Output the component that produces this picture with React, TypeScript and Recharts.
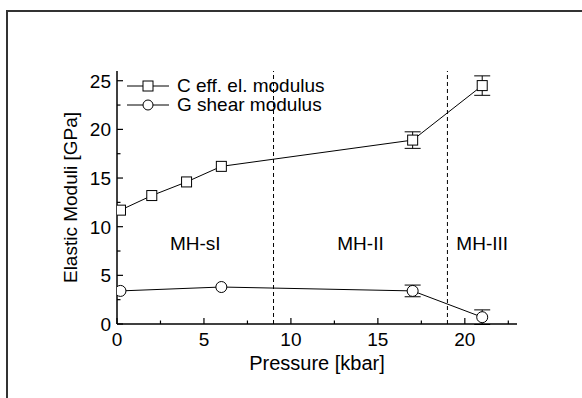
import React from "react";
import { LineChart, Line, XAxis, YAxis, ErrorBar, ReferenceLine, ReferenceDot } from "recharts";

const FONT = '"Liberation Sans", Arial, sans-serif';

// C eff. el. modulus
const cPressure = [0.2, 2, 4, 6, 17, 21];
const cModulus = [11.7, 13.2, 14.6, 16.2, 18.9, 24.5];
const cError = [0, 0, 0, 0, 0.85, 1.0];

// G shear modulus
const gPressure = [0.2, 6, 17, 21];
const gModulus = [3.4, 3.8, 3.4, 0.7];
const gError = [0, 0, 0.6, 0.75];

const xTicks = [0, 2.5, 5, 7.5, 10, 12.5, 15, 17.5, 20, 22.5];
const yTicks = [0, 2.5, 5, 7.5, 10, 12.5, 15, 17.5, 20, 22.5, 25];
const xDomain = [0, 23];
const yDomain = [0, 26];

const phaseBounds = [9, 19];
const phaseNames = ["MH-sI", "MH-II", "MH-III"];
const phaseLabelY = 8.3;

const cData = cPressure.map((p, i) => ({ p, v: cModulus[i], err: cError[i] }));
const gData = gPressure.map((p, i) => ({ p, v: gModulus[i], err: gError[i] }));

const edges = [xDomain[0], ...phaseBounds, xDomain[1]];
const phases = phaseNames.map((name, i) => ({ name, x: (edges[i] + edges[i + 1]) / 2 }));

const isMajor = (v: number) => v % 5 === 0;

const BottomTick = (props: any) => {
  const { x, y, payload } = props;
  const major = isMajor(payload.value);
  return (
    <g>
      <line x1={x} y1={y} x2={x} y2={y - (major ? 6 : 3.5)} stroke="#000" strokeWidth={1.2} />
      {major && (
        <text x={x} y={y + 22} textAnchor="middle" fontSize={19} fontFamily={FONT} fill="#000">
          {payload.value}
        </text>
      )}
    </g>
  );
};

const TopTick = (props: any) => {
  const { x, y, payload } = props;
  return <line x1={x} y1={y} x2={x} y2={y + (isMajor(payload.value) ? 6 : 3.5)} stroke="#000" strokeWidth={1.2} />;
};

const LeftTick = (props: any) => {
  const { x, y, payload } = props;
  const major = isMajor(payload.value);
  return (
    <g>
      <line x1={x} y1={y} x2={x + (major ? 6 : 3.5)} y2={y} stroke="#000" strokeWidth={1.2} />
      {major && (
        <text x={x - 6} y={y + 7} textAnchor="end" fontSize={19} fontFamily={FONT} fill="#000">
          {payload.value}
        </text>
      )}
    </g>
  );
};

const RightTick = (props: any) => {
  const { x, y, payload } = props;
  return <line x1={x} y1={y} x2={x - (isMajor(payload.value) ? 6 : 3.5)} y2={y} stroke="#000" strokeWidth={1.2} />;
};

const squareDot = (p: any) => {
  if (p.cx == null || p.cy == null) return <g key={`c-${p.index}`} />;
  return <rect key={`c-${p.index}`} x={p.cx - 5} y={p.cy - 5} width={10} height={10} fill="#fff" stroke="#000" strokeWidth={1} />;
};

const circleDot = (p: any) => {
  if (p.cx == null || p.cy == null) return <g key={`g-${p.index}`} />;
  return <circle key={`g-${p.index}`} cx={p.cx} cy={p.cy} r={5.5} fill="#fff" stroke="#000" strokeWidth={1} />;
};

const LegendRow = ({ marker, label }: { marker: "square" | "circle"; label: string }) => (
  <div style={{ display: "flex", alignItems: "center", height: 19 }}>
    <svg width={50} height={14} style={{ marginRight: 1 }}>
      <line x1={1} y1={7} x2={43} y2={7} stroke="#000" strokeWidth={1} />
      {marker === "square" ? (
        <rect x={17} y={2} width={10} height={10} fill="#fff" stroke="#000" />
      ) : (
        <circle cx={22} cy={7} r={5} fill="#fff" stroke="#000" />
      )}
    </svg>
    <span style={{ fontSize: 19, lineHeight: "18px", fontFamily: FONT, color: "#000" }}>{label}</span>
  </div>
);

export default function App() {
  return (
    <div style={{ position: "absolute", left: 0, top: 0, width: 582, height: 398, background: "#fff", overflow: "hidden" }}>
      <div
        style={{
          position: "absolute",
          left: 6,
          top: 10,
          right: -4,
          bottom: -4,
          borderTop: "2px solid #333",
          borderLeft: "2px solid #333",
        }}
      />
      <LineChart width={582} height={398} margin={{ top: 71, right: 65, bottom: 28, left: 57 }} style={{ position: "absolute", left: 0, top: 0 }}>
        <XAxis
          dataKey="p"
          type="number"
          domain={xDomain}
          ticks={xTicks}
          interval={0}
          tickSize={0}
          tickMargin={0}
          tick={<BottomTick />}
          axisLine={{ stroke: "#000", strokeWidth: 1.5 }}
          tickLine={false}
          height={46}
          allowDataOverflow
          label={{ value: "Pressure [kbar]", position: "insideBottom", offset: 0, fontSize: 20, fontFamily: FONT, fill: "#000" }}
        />
        <XAxis
          xAxisId="top"
          dataKey="p"
          type="number"
          orientation="top"
          domain={xDomain}
          ticks={xTicks}
          interval={0}
          tickSize={0}
          tickMargin={0}
          tick={<TopTick />}
          axisLine={{ stroke: "#000", strokeWidth: 1.5 }}
          tickLine={false}
          height={0}
          allowDataOverflow
        />
        <YAxis
          type="number"
          domain={yDomain}
          ticks={yTicks}
          interval={0}
          tickSize={0}
          tickMargin={0}
          tick={<LeftTick />}
          axisLine={{ stroke: "#000", strokeWidth: 1.5 }}
          tickLine={false}
          width={60}
          allowDataOverflow
          label={{
            value: "Elastic Moduli [GPa]",
            angle: -90,
            position: "insideLeft",
            offset: 13,
            fontSize: 19,
            fontFamily: FONT,
            fill: "#000",
            style: { textAnchor: "middle" },
          }}
        />
        <YAxis
          yAxisId="right"
          type="number"
          orientation="right"
          domain={yDomain}
          ticks={yTicks}
          interval={0}
          tickSize={0}
          tickMargin={0}
          tick={<RightTick />}
          axisLine={{ stroke: "#000", strokeWidth: 1.5 }}
          tickLine={false}
          width={0}
          allowDataOverflow
        />
        {phaseBounds.map((b) => (
          <ReferenceLine key={b} x={b} stroke="#000" strokeWidth={1} strokeDasharray="4 3" />
        ))}
        {phases.map((ph) => (
          <ReferenceDot
            key={ph.name}
            x={ph.x}
            y={phaseLabelY}
            r={0}
            fill="none"
            stroke="none"
            label={{ value: ph.name, position: "center", fontSize: 19, fontFamily: FONT, fill: "#000" }}
          />
        ))}
        <Line
          data={cData}
          dataKey="v"
          type="linear"
          stroke="#000"
          strokeWidth={1}
          dot={squareDot}
          activeDot={false}
          isAnimationActive={false}
        >
          <ErrorBar dataKey="err" width={8} stroke="#000" strokeWidth={1} direction="y" />
        </Line>
        <Line
          data={gData}
          dataKey="v"
          type="linear"
          stroke="#000"
          strokeWidth={1}
          dot={circleDot}
          activeDot={false}
          isAnimationActive={false}
        >
          <ErrorBar dataKey="err" width={8} stroke="#000" strokeWidth={1} direction="y" />
        </Line>
      </LineChart>
      <div style={{ position: "absolute", left: 126, top: 76 }}>
        <LegendRow marker="square" label="C eff. el. modulus" />
        <LegendRow marker="circle" label="G shear modulus" />
      </div>
    </div>
  );
}
